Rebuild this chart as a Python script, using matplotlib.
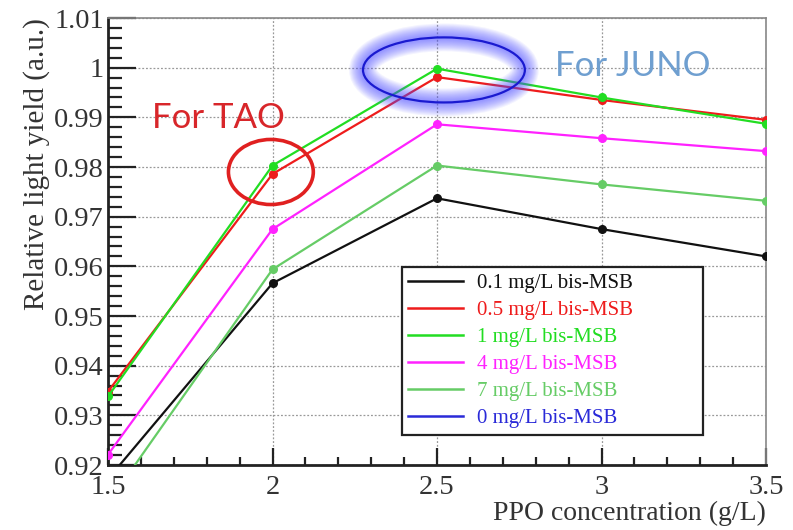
import matplotlib
matplotlib.use("Agg")
import matplotlib.pyplot as plt
from matplotlib.patches import Ellipse
from matplotlib.lines import Line2D
from matplotlib.ticker import MultipleLocator

# PPO concentration (g/L)
ppo = [1.5, 2.0, 2.5, 3.0, 3.5]

# Relative light yield for each bis-MSB concentration
ly_01 = [0.9172, 0.9566, 0.9737, 0.9675, 0.9620]
ly_05 = [0.9348, 0.9786, 0.9981, 0.9935, 0.9895]
ly_1 = [0.9338, 0.9803, 0.9998, 0.9940, 0.9887]
ly_4 = [0.9221, 0.9675, 0.9886, 0.9858, 0.9832]
ly_7 = [0.9123, 0.9594, 0.9803, 0.9765, 0.9732]

labels = ["0.1 mg/L bis-MSB", "0.5 mg/L bis-MSB", "1 mg/L bis-MSB",
          "4 mg/L bis-MSB", "7 mg/L bis-MSB", "0 mg/L bis-MSB"]
colors = ["#111111", "#ee1c1c", "#22dd22", "#ff22ff", "#66cc66", "#2a2ad8"]
values = [ly_01, ly_05, ly_1, ly_4, ly_7]

plt.rcParams["font.family"] = ["Liberation Serif", "DejaVu Serif"]

fig = plt.figure(figsize=(7.93, 5.30), dpi=100)
ax = fig.add_axes([0.1362, 0.1226, 0.8298, 0.8434])

for vals, col in zip(values, colors):
    ax.plot(ppo, vals, color=col, lw=1.6, marker="o", ms=5.5, zorder=3)

ax.set_xlim(1.5, 3.5)
ax.set_ylim(0.92, 1.01)
ax.xaxis.set_minor_locator(MultipleLocator(0.1))
ax.yaxis.set_minor_locator(MultipleLocator(0.002))
ax.set_xticks([1.5, 2, 2.5, 3, 3.5])
ax.set_xticklabels(["1.5", "2", "2.5", "3", "3.5"])
ax.set_yticks([0.92, 0.93, 0.94, 0.95, 0.96, 0.97, 0.98, 0.99, 1.0, 1.01])
ax.set_yticklabels(["0.92", "0.93", "0.94", "0.95", "0.96", "0.97",
                    "0.98", "0.99", "1", "1.01"])

ax.grid(True, which="major", color="#999999", ls=(0, (1.5, 1.5)), lw=0.9)

ax.tick_params(axis="both", which="both", direction="in", width=1.6,
               colors="#222222", labelcolor="#333333", labelsize=20.5,
               top=False, right=False)
ax.tick_params(axis="y", which="major", length=20, pad=3)
ax.tick_params(axis="y", which="minor", length=10)
ax.tick_params(axis="x", which="major", length=12, pad=7)
ax.tick_params(axis="x", which="minor", length=6)

for side in ("left", "bottom"):
    ax.spines[side].set_linewidth(2.0)
    ax.spines[side].set_color("#222222")
for side in ("top", "right"):
    ax.spines[side].set_linewidth(1.2)
    ax.spines[side].set_color("#888888")

ax.set_xlabel("PPO concentration (g/L)", fontsize=20, color="#333333",
              loc="right", labelpad=1)
ax.set_ylabel("Relative light yield (a.u.)", fontsize=21, color="#333333",
              loc="top", labelpad=3)

handles = [Line2D([], [], color=c, lw=1.8) for c in colors]
leg = ax.legend(handles, labels, loc="upper left",
                bbox_to_anchor=(0.447, 0.083, 0.457, 0.36), mode="expand",
                prop={"size": 15}, labelcolor="linecolor", frameon=True,
                fancybox=False, edgecolor="#222222", handlelength=2.6,
                handletextpad=0.7, labelspacing=0.36, borderpad=0.3,
                borderaxespad=0, framealpha=1)
leg.get_frame().set_linewidth(1.6)
leg.set_zorder(5)

# TAO highlight
ax.add_patch(Ellipse((1.995, 0.979), 0.258, 0.0131, fill=False,
                     edgecolor="#e02020", lw=2.6, zorder=4))
ax.text(1.634, 0.9899, "For TAO", color="#d8262a", fontsize=25,
        fontfamily="Lato", va="center", ha="left", zorder=4)

# JUNO highlight with soft glow
for i in range(12, 0, -1):
    ax.add_patch(Ellipse((2.521, 0.99955), 0.492, 0.0131, fill=False,
                         edgecolor="#5050ff", lw=2 + i * 1.5,
                         alpha=0.065, zorder=4))
ax.add_patch(Ellipse((2.521, 0.99955), 0.492, 0.0131, fill=False,
                     edgecolor="#1a1ad0", lw=1.6, zorder=4))
ax.text(2.859, 1.0003, "For JUNO", color="#6f9fd0", fontsize=25,
        fontfamily="Lato", va="center", ha="left", zorder=4)

fig.savefig("out.png", dpi=100)
